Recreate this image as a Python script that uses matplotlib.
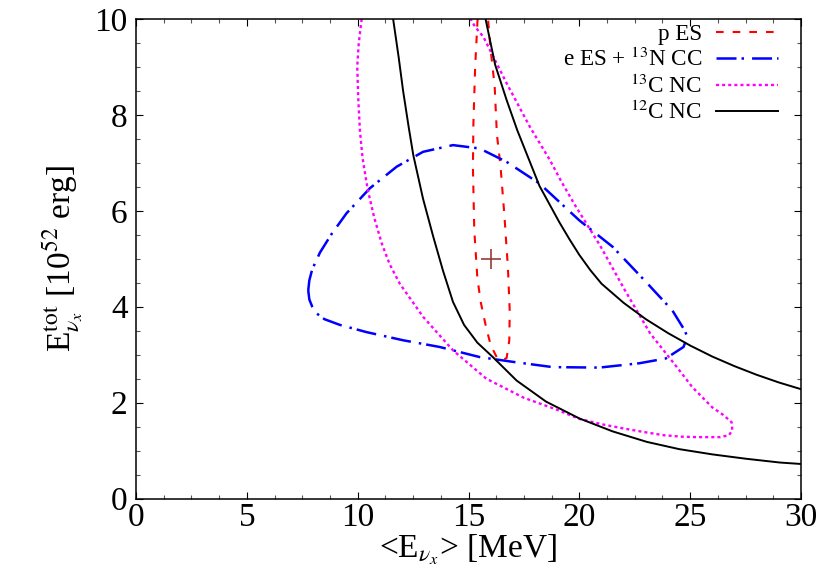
import matplotlib
matplotlib.use("Agg")
import matplotlib.pyplot as plt
from matplotlib.ticker import MultipleLocator

plt.rcParams['font.family'] = ['Liberation Serif', 'DejaVu Serif']
plt.rcParams['mathtext.fontset'] = 'stix'
plt.rcParams['lines.scale_dashes'] = False

# ---- data ----
# 12C NC (two branches)
c12_in_x = [11.60, 11.85, 12.05, 12.30, 12.51, 12.95, 13.41, 13.85, 14.30, 14.80, 15.40, 16.12, 17.17, 18.5, 20.0, 21.5, 23.05, 24.5, 26.0, 27.5, 29.05, 30.0]
c12_in_y = [10.0, 9.20, 8.50, 7.75, 7.16, 6.25, 5.46, 4.75, 4.10, 3.62, 3.25, 2.94, 2.46, 2.02, 1.67, 1.40, 1.18, 1.03, 0.92, 0.83, 0.75, 0.72]
c12_out_x = [15.77, 16.2, 16.72, 17.2, 18.2, 19.1, 19.55, 20.0, 20.5, 21.0, 22.0, 23.0, 24.0, 25.0, 26.0, 27.0, 28.0, 29.0, 30.0]
c12_out_y = [10.0, 9.05, 8.31, 7.68, 6.52, 5.76, 5.41, 5.08, 4.76, 4.48, 4.08, 3.74, 3.45, 3.19, 2.96, 2.76, 2.58, 2.42, 2.28]

# p ES
pes_x = [15.41, 15.30, 15.22, 15.20, 15.26, 15.40, 15.55, 15.78, 16.0, 16.27, 16.50, 16.72, 16.84, 16.86, 16.78, 16.62, 16.45, 16.28, 16.18, 15.99, 15.88]
pes_y = [10.0, 9.0, 7.8, 6.9, 5.6, 4.6, 4.1, 3.6, 3.2, 2.95, 2.88, 2.93, 3.3, 3.9, 4.8, 5.9, 6.9, 7.6, 8.6, 9.4, 10.0]

# e ES + 13N CC
ecc_x = [7.77, 7.82, 7.95, 8.3, 8.8, 9.5, 10.55, 11.76, 12.95, 14.3, 15.5, 16.72, 18.2, 20.0, 21.5, 23.0, 24.2, 24.76, 24.87, 24.7, 23.9, 22.7, 20.9, 18.8, 17.0, 15.5, 13.7, 12.05, 10.4, 9.2, 8.5, 8.15, 7.95, 7.82, 7.77]
ecc_y = [4.34, 4.55, 4.78, 5.13, 5.5, 5.95, 6.47, 6.92, 7.23, 7.37, 7.3, 7.02, 6.57, 5.8, 5.25, 4.52, 3.92, 3.5, 3.37, 3.16, 2.92, 2.82, 2.73, 2.74, 2.85, 2.95, 3.16, 3.3, 3.47, 3.62, 3.74, 3.86, 4.0, 4.15, 4.34]

# 13C NC
c13_x = [10.18, 10.05, 9.98, 10.03, 10.10, 10.22, 10.45, 10.75, 11.10, 11.45, 11.9, 12.95, 14.3, 15.8, 17.5, 19.0, 20.0, 21.0, 22.0, 23.0, 23.8, 24.6, 25.3, 26.35, 26.75, 26.9, 26.87, 26.5, 26.0, 25.1, 24.4, 23.8, 23.2, 22.06, 20.93, 19.8, 19.2, 18.67, 17.77, 16.72, 15.97, 15.67, 15.29, 15.1]
c13_y = [10.0, 9.5, 9.0, 8.31, 7.68, 7.10, 6.45, 5.85, 5.30, 4.88, 4.48, 3.79, 3.09, 2.5, 2.1, 1.85, 1.66, 1.55, 1.46, 1.38, 1.32, 1.29, 1.28, 1.28, 1.32, 1.42, 1.59, 1.74, 1.9, 2.32, 2.74, 3.09, 3.44, 4.34, 5.28, 6.12, 6.60, 7.06, 7.75, 8.66, 9.35, 9.63, 9.84, 10.0]

# best-fit point
best_x = [16.0]
best_y = [5.0]

labels = ['p ES', r'e ES + $^{13}$N CC', r'$^{13}$C NC', r'$^{12}$C NC']

fig = plt.figure(figsize=(8.3, 5.81), dpi=100)
ax = fig.add_axes([136/830, 1 - 498.5/581, 665/830, 479.5/581])

l1, = ax.plot(pes_x, pes_y, color='#ff0000', lw=1.5, dashes=(5.5, 6.5))
l2, = ax.plot(ecc_x, ecc_y, color='#0000ff', lw=1.8, dashes=(14.4, 3.6, 1.8, 5.8))
l3, = ax.plot(c13_x, c13_y, color='#ff00ff', lw=1.7, dashes=(2.2, 2.2))
l4, = ax.plot(c12_in_x, c12_in_y, color='black', lw=1.4)
ax.plot(c12_out_x, c12_out_y, color='black', lw=1.4)
ax.plot(best_x, best_y, marker='+', ms=14, mew=1.2, color='#9b3a3a', ls='none')

ax.set_xlim(0, 30)
ax.set_ylim(0, 10)
ax.xaxis.set_major_locator(MultipleLocator(5))
ax.xaxis.set_minor_locator(MultipleLocator(1.25))
ax.yaxis.set_major_locator(MultipleLocator(2))
ax.yaxis.set_minor_locator(MultipleLocator(0.5))
ax.tick_params(which='both', direction='in', top=True, right=True, labelsize=24, width=0.8)
ax.tick_params(which='major', length=5, pad=3)
ax.tick_params(which='minor', length=3, color='#555555')
ax.tick_params(axis='y', pad=6)
for s in ax.spines.values():
    s.set_linewidth(1.1)

ax.set_xlabel(r'<E$_{\nu_x}$> [MeV]', fontsize=24)
ax.set_ylabel(r'E$^{\rm tot}_{\nu_x}$ [10$^{52}$ erg]', fontsize=24)
ax.xaxis.set_label_coords(0.5, -0.07)
ax.yaxis.set_label_coords(-0.075, 0.5)

ax.legend([l1, l2, l3, l4], labels, loc='upper right', bbox_to_anchor=(0.966, 0.99),
          frameon=False, markerfirst=False, fontsize=16.7, handlelength=2.7,
          handletextpad=0.6, labelspacing=0.14, borderpad=0, borderaxespad=0)

fig.savefig('out.png', dpi=100)
